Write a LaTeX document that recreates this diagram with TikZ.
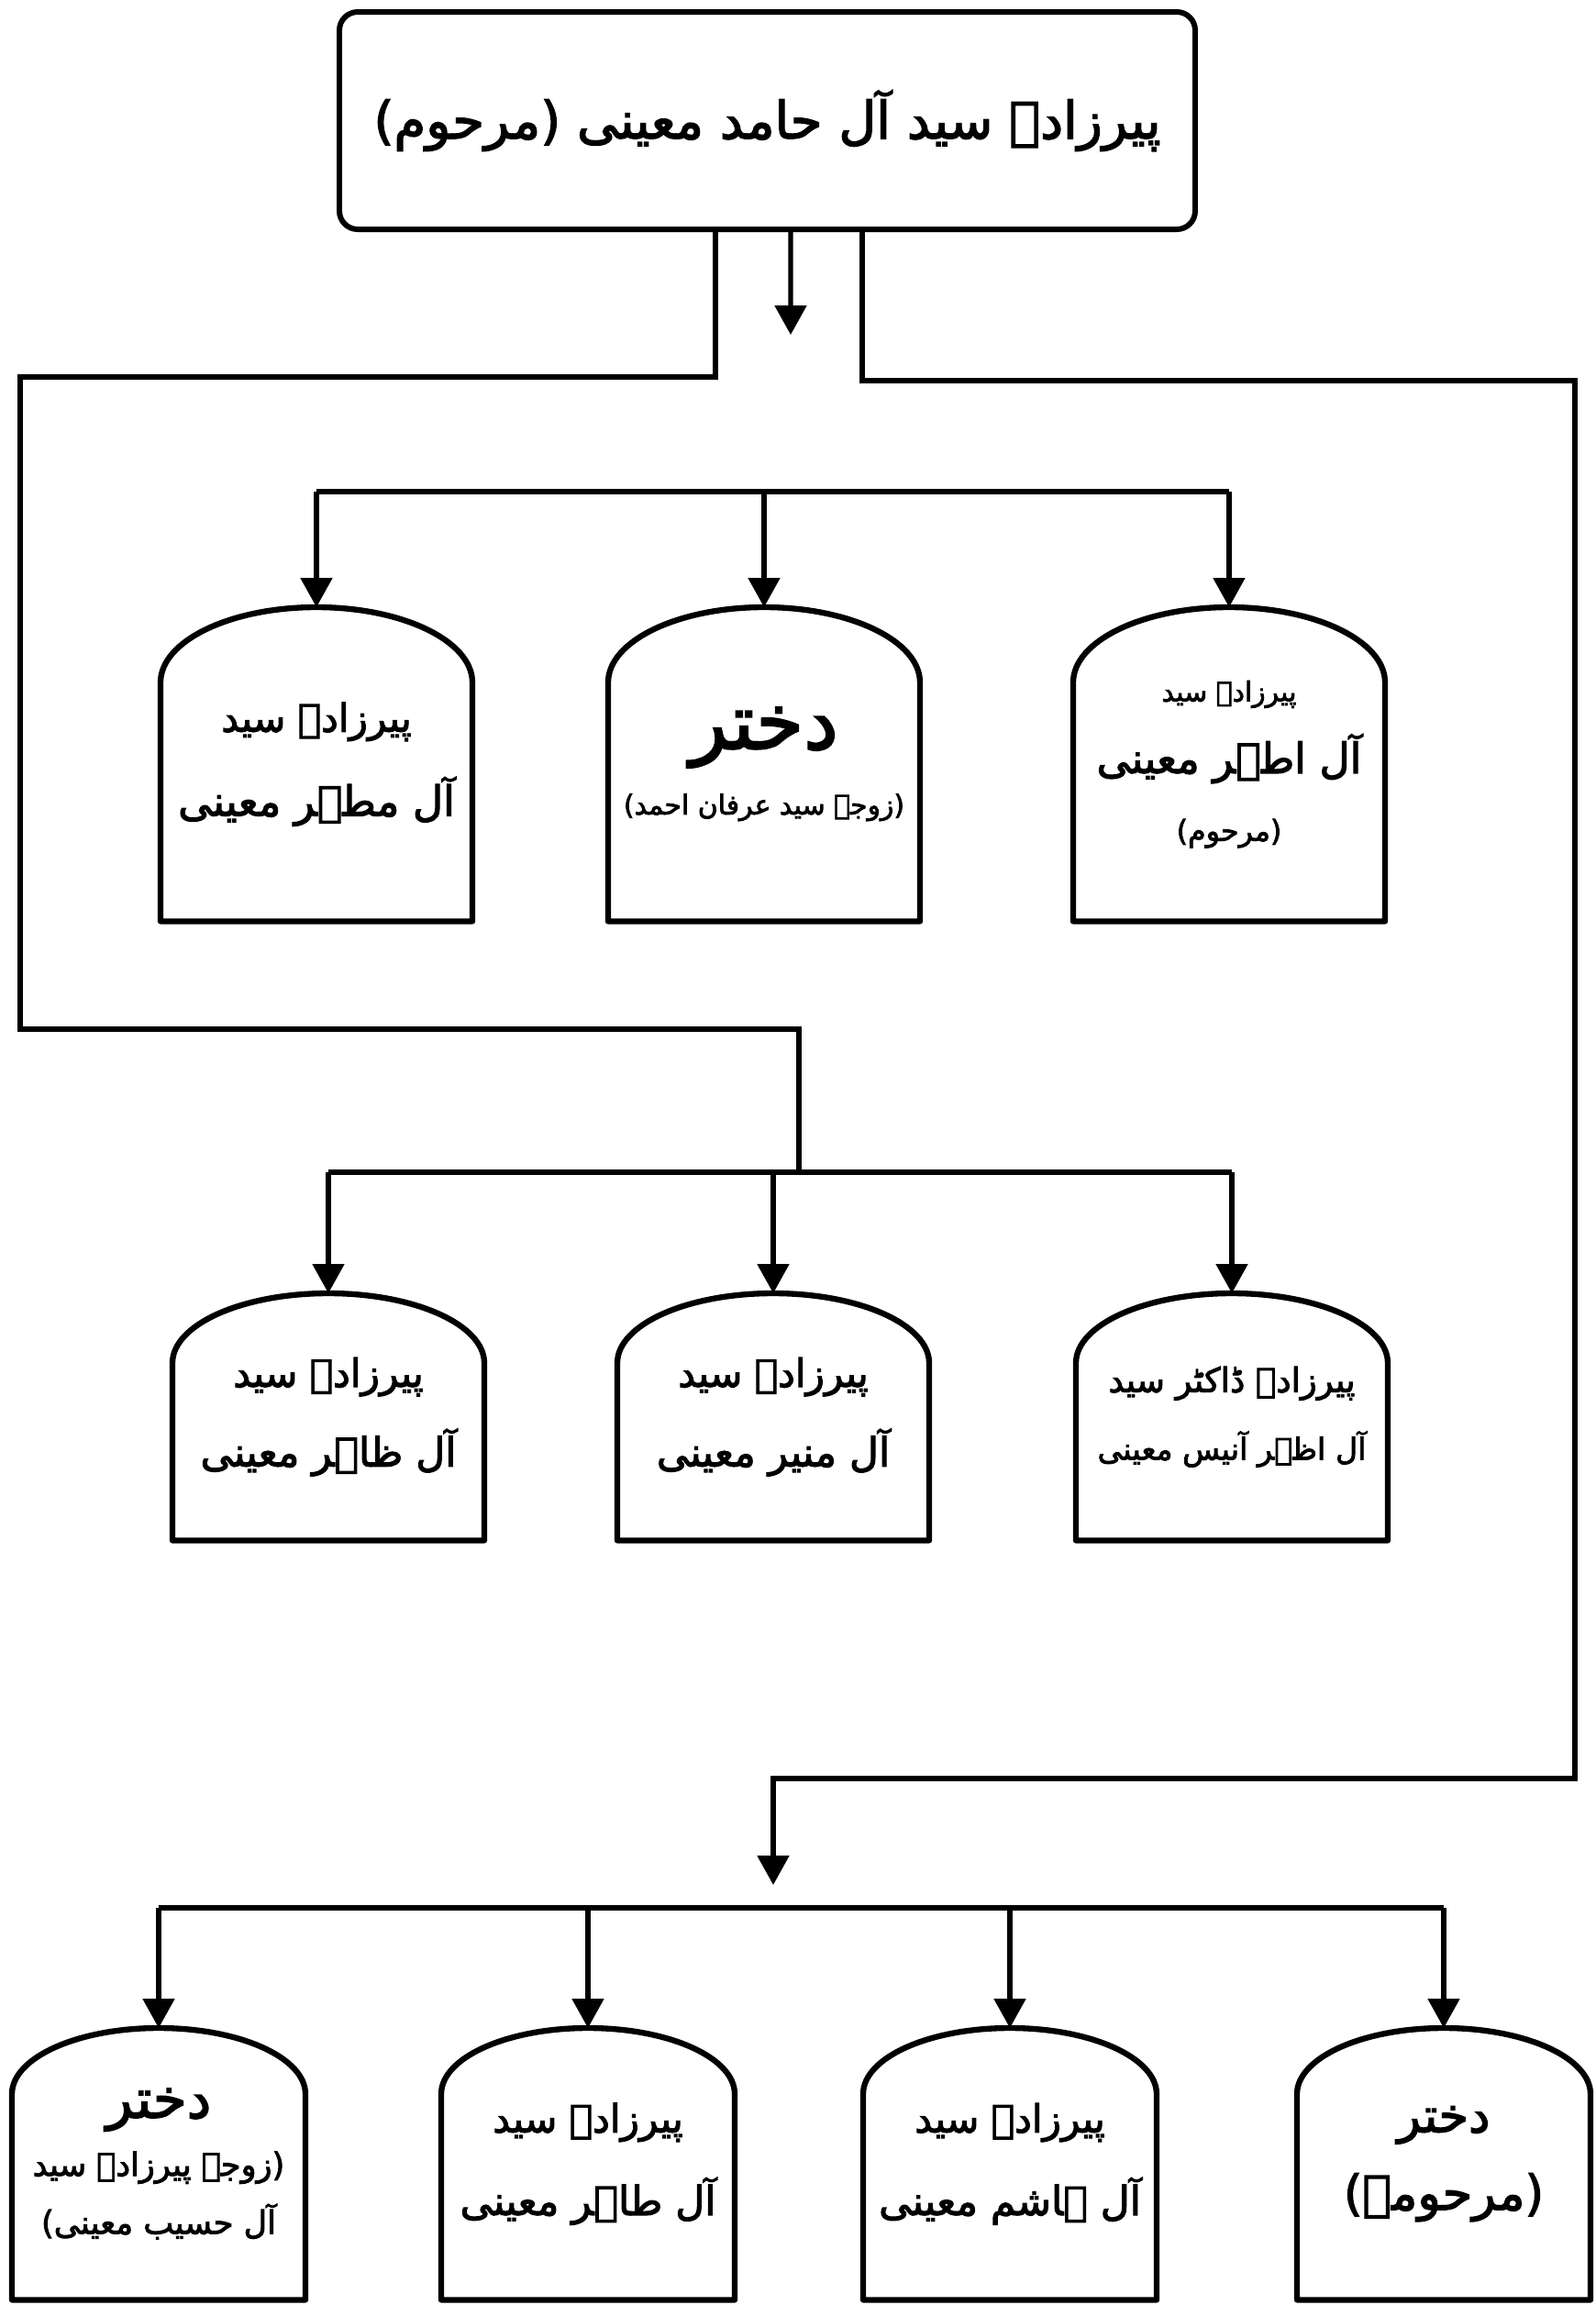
\documentclass[tikz,border=0pt]{standalone}
\usepackage{fontspec}
\usepackage{tikz}
\usetikzlibrary{arrows.meta,positioning}
\newfontfamily\urdufont[Script=Arabic,FakeBold=2.5]{DejaVu Sans}
\TeXXeTstate=1
\newcommand{\ursize}[1]{\fontsize{#1}{#1}\selectfont}
\tikzset
{
    topnode/.style = {rectangle, rounded corners=0.2cm, draw=black, line width=1.7pt, minimum width=9.33cm, minimum height=2.37cm, font=\urdufont},
    archnode/.style = {anchor=north, align=center, inner sep=0pt, minimum width=3.4cm, font=\urdufont},
    archline/.style = {draw=black, line width=1.8pt, line join=round},
    link/.style = {draw=black, line width=1.5pt},
    arrowlink/.style = {link, -{Triangle[width=0.34cm, length=0.32cm]}}
}

\begin{document}
\begin{tikzpicture}
\useasboundingbox (0,0) rectangle (17.40,-25.13);
\node[topnode] (hamid) at (8.365,-1.315) {\ursize{16}\beginR پیرزادہ سید آل حامد معینی (مرحوم)\endR};

\node[archnode, minimum height=3.41cm] (mazhar) at (3.45,-6.62) {{\ursize{12}\beginR پیرزادہ سید\endR}\\[10pt]{\ursize{13}\beginR آل مطہر معینی\endR}};
\node[archnode, minimum height=3.41cm] (dukhtar1) at (8.33,-6.62) {{\ursize{24}\beginR دختر\endR}\\[7pt]{\ursize{8.5}\beginR (زوجہ سید عرفان احمد)\endR}};
\node[archnode, minimum height=3.41cm] (athar) at (13.40,-6.62) {{\ursize{8.5}\beginR پیرزادہ سید\endR}\\[7pt]{\ursize{13}\beginR آل اطہر معینی\endR}\\[9pt]{\ursize{9}\beginR (مرحوم)\endR}};

\node[archnode, minimum height=2.68cm] (zahir) at (3.58,-14.10) {{\ursize{12}\beginR پیرزادہ سید\endR}\\[9pt]{\ursize{12.5}\beginR آل ظاہر معینی\endR}};
\node[archnode, minimum height=2.68cm] (munir) at (8.43,-14.10) {{\ursize{12}\beginR پیرزادہ سید\endR}\\[9pt]{\ursize{12.5}\beginR آل منیر معینی\endR}};
\node[archnode, minimum height=2.68cm] (anis) at (13.43,-14.10) {{\ursize{10.5}\beginR پیرزادہ ڈاکٹر سید\endR}\\[9pt]{\ursize{9.5}\beginR آل اظہر آنیس معینی\endR}};

\node[archnode, minimum width=3.2cm, minimum height=2.95cm] (dukhtar2) at (1.73,-22.11) {{\ursize{17}\beginR دختر\endR}\\[6pt]{\ursize{10}\beginR (زوجہ پیرزادہ سید\endR}\\[6pt]{\ursize{10}\beginR آل حسیب معینی)\endR}};
\node[archnode, minimum width=3.2cm, minimum height=2.95cm] (tahir) at (6.41,-22.11) {{\ursize{12}\beginR پیرزادہ سید\endR}\\[10pt]{\ursize{12.5}\beginR آل طاہر معینی\endR}};
\node[archnode, minimum width=3.2cm, minimum height=2.95cm] (hashim) at (11.01,-22.11) {{\ursize{12}\beginR پیرزادہ سید\endR}\\[10pt]{\ursize{12.5}\beginR آل ہاشم معینی\endR}};
\node[archnode, minimum width=3.2cm, minimum height=2.95cm] (dukhtar3) at (15.74,-22.11) {{\ursize{15}\beginR دختر\endR}\\[8pt]{\ursize{15}\beginR (مرحومہ)\endR}};

\foreach \n/\rx/\ry in {mazhar/1.7/0.82, dukhtar1/1.7/0.82, athar/1.7/0.82, zahir/1.7/0.76, munir/1.7/0.76, anis/1.7/0.76, dukhtar2/1.6/0.72, tahir/1.6/0.72, hashim/1.6/0.72, dukhtar3/1.6/0.72}
    \draw[archline] ([xshift=-\rx cm]\n.south) -- ([xshift=-\rx cm, yshift=-\ry cm]\n.north) arc[start angle=180, end angle=0, x radius=\rx cm, y radius=\ry cm] -- ([xshift=\rx cm]\n.south) -- cycle;

\coordinate (bar1) at (0,-5.36);
\coordinate (bar2) at (0,-12.78);
\coordinate (bar3) at (0,-20.80);
\coordinate (gap) at (8.62,-3.65);
\coordinate (join2) at (8.71,-12.78);
\coordinate (join3) at (8.43,-20.55);

\draw[link] ([xshift=-0.565cm]hamid.south) |- (0.22,-4.11) |- (8.71,-11.22) -- (join2);
\draw[arrowlink] ([xshift=0.255cm]hamid.south) -- (gap);
\draw[arrowlink] ([xshift=1.035cm]hamid.south) |- (17.17,-4.15) |- (8.43,-19.39) -- (join3);

\draw[link] (mazhar.north |- bar1) -- (athar.north |- bar1);
\draw[link] (zahir.north |- bar2) -- (anis.north |- bar2);
\draw[link] (dukhtar2.north |- bar3) -- (dukhtar3.north |- bar3);
\foreach \n/\b in {mazhar/bar1, dukhtar1/bar1, athar/bar1, zahir/bar2, munir/bar2, anis/bar2, dukhtar2/bar3, tahir/bar3, hashim/bar3, dukhtar3/bar3}
    \draw[arrowlink] (\n.north |- \b) -- (\n.north);
\end{tikzpicture}
\end{document}
